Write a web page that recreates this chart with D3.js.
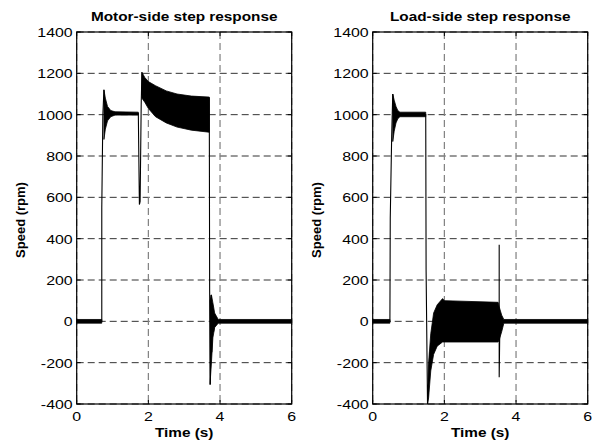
<!DOCTYPE html>
<html>
<head>
<meta charset="utf-8">
<script src="https://cdn.jsdelivr.net/npm/d3@7"></script>
<style>
  body { margin: 0; background: #fff; }
  text { font-family: "Liberation Sans", Arial, Helvetica, sans-serif; }
</style>
</head>
<body>
<svg id="chart" width="601" height="442"></svg>
<script>
// axis ticks
var timeTicks = [0, 2, 4, 6];
var speedTicks = [-400, -200, 0, 200, 400, 600, 800, 1000, 1200, 1400];

// motor side: thin trace [t, rpm] and oscillation envelopes [t, low, high]
var motorLine = [[0,0],[0.70,0],[0.70,550],[0.73,1000],[0.76,1120],[0.80,1000],[1.72,1005],
    [1.74,700],[1.75,565],[1.77,580],[1.80,1050],[1.82,1205],[1.83,1100],[3.70,1080],
    [3.71,150],[3.73,-306],[3.75,128],[3.77,-150],[3.79,80],[3.82,-50],[3.86,20],[3.92,0],[6,0]];
var motorBands = [
    [[0,-9,9],[0.70,-9,9]],
    [[0.76,880,1120],[0.80,930,1080],[0.86,970,1040],[0.95,990,1020],[1.07,998,1014],[1.72,998,1012]],
    [[1.82,1080,1205],[1.90,1060,1180],[2.0,1030,1160],[2.2,990,1140],[2.5,960,1115],
     [2.8,940,1100],[3.2,925,1090],[3.7,915,1085]],
    [[3.72,-306,100],[3.76,-200,128],[3.80,-80,90],[3.85,-30,40],[3.95,-9,9],[6,-9,9]]
];

// load side
var loadLine = [[0,0],[0.48,0],[0.49,500],[0.53,900],[0.56,1100],[0.60,1000],[1.48,1000],
    [1.49,250],[1.53,-400],[1.60,-150],[2.0,0],[3.53,0],[3.53,370],[3.53,-270],[3.55,0],[6,0]];
var loadBands = [
    [[0,-9,9],[0.48,-9,9]],
    [[0.56,870,1100],[0.60,920,1070],[0.65,960,1040],[0.70,980,1020],[0.76,990,1012],[1.48,990,1012]],
    [[1.53,-400,-380],[1.56,-370,-200],[1.62,-240,-60],[1.70,-160,40],[1.80,-120,80],
     [1.95,-100,110],[2.0,-100,100],[3.5,-100,92],[3.53,-90,70],[3.60,-50,30],[3.66,-9,9],[6,-9,9]]
];

var svg = d3.select('#chart');

// text that is a bit wider than the font, like the original export
function wideText(g, px, py, str, size, bold, anchor){
    return g.append('text')
        .attr('transform', 'translate(' + px + ',' + py + ') scale(1.18,1)')
        .attr('text-anchor', anchor).attr('font-size', size)
        .attr('font-weight', bold ? 'bold' : 'normal')
        .text(str);
}

function drawPanel(left, title, line, bands){
    var x = d3.scaleLinear().domain([0, 6]).range([left, left + 215]);
    var y = d3.scaleLinear().domain([-400, 1400]).range([404, 32]);
    var g = svg.append('g');

    // grid
    g.selectAll('.hgrid').data(speedTicks).enter().append('line')
        .attr('x1', x(0)).attr('x2', x(6))
        .attr('y1', function(d){ return y(d); }).attr('y2', function(d){ return y(d); })
        .attr('stroke', '#333').attr('stroke-width', 1).attr('stroke-dasharray', '7,4');
    g.selectAll('.vgrid').data(timeTicks).enter().append('line')
        .attr('x1', function(d){ return x(d); }).attr('x2', function(d){ return x(d); })
        .attr('y1', y(1400)).attr('y2', y(-400))
        .attr('stroke', '#808080').attr('stroke-width', 1.2).attr('stroke-dasharray', '7,4');

    // data
    var area = d3.area()
        .x(function(d){ return x(d[0]); })
        .y0(function(d){ return y(d[1]); })
        .y1(function(d){ return y(d[2]); });
    bands.forEach(function(b){
        g.append('path').attr('d', area(b))
            .attr('fill', '#000').attr('stroke', '#000').attr('stroke-width', 0.8);
    });
    var ln = d3.line().x(function(d){ return x(d[0]); }).y(function(d){ return y(d[1]); });
    g.append('path').attr('d', ln(line))
        .attr('fill', 'none').attr('stroke', '#000').attr('stroke-width', 1.1);

    // box
    g.append('rect').attr('x', x(0)).attr('y', y(1400))
        .attr('width', x(6) - x(0)).attr('height', y(-400) - y(1400))
        .attr('fill', 'none').attr('stroke', '#000').attr('stroke-width', 1.2);

    // inward ticks
    speedTicks.forEach(function(d){
        g.append('line').attr('x1', x(0)).attr('x2', x(0) + 4).attr('y1', y(d)).attr('y2', y(d)).attr('stroke', '#000');
        g.append('line').attr('x1', x(6)).attr('x2', x(6) - 4).attr('y1', y(d)).attr('y2', y(d)).attr('stroke', '#000');
    });
    timeTicks.forEach(function(d){
        g.append('line').attr('x1', x(d)).attr('x2', x(d)).attr('y1', y(-400)).attr('y2', y(-400) - 4).attr('stroke', '#000');
        g.append('line').attr('x1', x(d)).attr('x2', x(d)).attr('y1', y(1400)).attr('y2', y(1400) + 4).attr('stroke', '#000');
    });

    // tick labels
    speedTicks.forEach(function(d){
        wideText(g, x(0) - 4, y(d) + 5, d, 13.5, false, 'end');
    });
    timeTicks.forEach(function(d){
        wideText(g, x(d), 421, d, 13.5, false, 'middle');
    });

    // titles
    wideText(g, (x(0) + x(6)) / 2, 21, title, 13, true, 'middle');
    wideText(g, (x(0) + x(6)) / 2, 437, 'Time (s)', 13, true, 'middle');
    g.append('text')
        .attr('transform', 'translate(' + (left - 52) + ',220) rotate(-90)')
        .attr('text-anchor', 'middle').attr('font-size', 13).attr('font-weight', 'bold')
        .text('Speed (rpm)');
}

drawPanel(76.7, 'Motor-side step response', motorLine, motorBands);
drawPanel(372.7, 'Load-side step response', loadLine, loadBands);
</script>
</body>
</html>
